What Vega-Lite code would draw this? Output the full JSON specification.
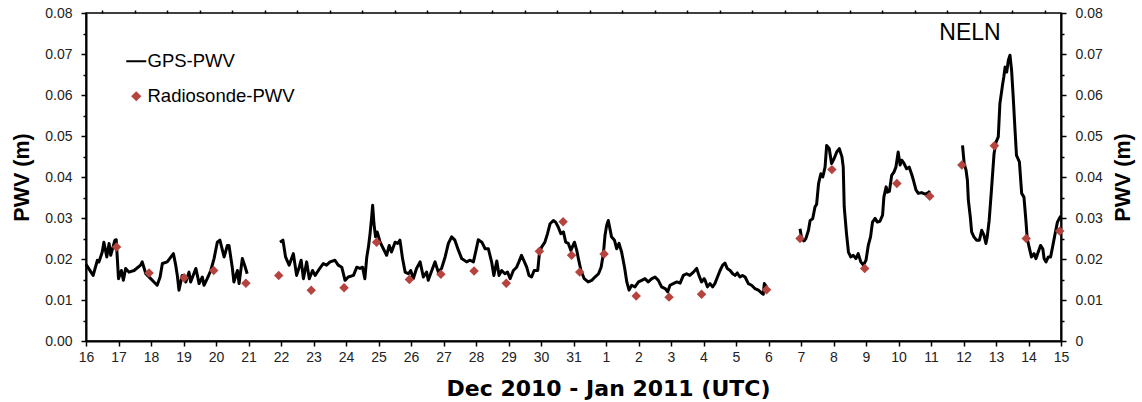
{
  "$schema": "https://vega.github.io/schema/vega-lite/v6.json",
  "width": 975,
  "height": 328,
  "autosize": "none",
  "padding": {"left": 86, "top": 13, "right": 81, "bottom": 61},
  "background": "white",
  "config": {
    "view": {"stroke": "black", "strokeWidth": 1.5},
    "font": "Liberation Sans",
    "axis": {
      "domainColor": "black", "domainWidth": 2, "tickColor": "black", "tickWidth": 1.5,
      "labelFont": "Liberation Sans", "labelFontSize": 14, "labelColor": "#222",
      "titleFont": "Liberation Sans", "titleFontWeight": "bold", "titleColor": "black",
      "grid": false, "labelOverlap": false, "labelFlush": false, "labelBound": false
    }
  },
  "datasets": {
    "gps": [
      {"d":0.00,"v":0.0187,"seg":1},{"d":0.22,"v":0.016,"seg":1},{"d":0.35,"v":0.0197,"seg":1},{"d":0.40,"v":0.0193,"seg":1},{"d":0.50,"v":0.0217,"seg":1},{"d":0.55,"v":0.0241,"seg":1},{"d":0.64,"v":0.0205,"seg":1},{"d":0.71,"v":0.0238,"seg":1},{"d":0.76,"v":0.0209,"seg":1},{"d":0.89,"v":0.0246,"seg":1},{"d":0.93,"v":0.0247,"seg":1},{"d":1.0,"v":0.0152,"seg":1},{"d":1.09,"v":0.0172,"seg":1},{"d":1.15,"v":0.0148,"seg":1},{"d":1.22,"v":0.0177,"seg":1},{"d":1.32,"v":0.0168,"seg":1},{"d":1.48,"v":0.0172,"seg":1},{"d":1.68,"v":0.0185,"seg":1},{"d":1.73,"v":0.0193,"seg":1},{"d":1.84,"v":0.0164,"seg":1},{"d":1.99,"v":0.0152,"seg":1},{"d":2.09,"v":0.0144,"seg":1},{"d":2.19,"v":0.0136,"seg":1},{"d":2.28,"v":0.0156,"seg":1},{"d":2.35,"v":0.0189,"seg":1},{"d":2.50,"v":0.0193,"seg":1},{"d":2.69,"v":0.0213,"seg":1},{"d":2.76,"v":0.0185,"seg":1},{"d":2.81,"v":0.016,"seg":1},{"d":2.86,"v":0.0124,"seg":1},{"d":2.96,"v":0.016,"seg":1},{"d":3.07,"v":0.0144,"seg":1},{"d":3.17,"v":0.0168,"seg":1},{"d":3.22,"v":0.0144,"seg":1},{"d":3.38,"v":0.0177,"seg":1},{"d":3.48,"v":0.014,"seg":1},{"d":3.58,"v":0.0156,"seg":1},{"d":3.63,"v":0.0136,"seg":1},{"d":3.73,"v":0.0152,"seg":1},{"d":3.84,"v":0.0172,"seg":1},{"d":3.94,"v":0.0201,"seg":1},{"d":4.04,"v":0.0241,"seg":1},{"d":4.12,"v":0.0246,"seg":1},{"d":4.25,"v":0.0205,"seg":1},{"d":4.35,"v":0.0233,"seg":1},{"d":4.40,"v":0.0233,"seg":1},{"d":4.50,"v":0.018,"seg":1},{"d":4.55,"v":0.0144,"seg":1},{"d":4.66,"v":0.0172,"seg":1},{"d":4.71,"v":0.014,"seg":1},{"d":4.81,"v":0.0201,"seg":1},{"d":4.88,"v":0.0185,"seg":1},{"d":4.96,"v":0.0164,"seg":1},
      {"d":5.97,"v":0.0241,"seg":2},{"d":6.06,"v":0.0246,"seg":2},{"d":6.14,"v":0.0205,"seg":2},{"d":6.25,"v":0.0185,"seg":2},{"d":6.38,"v":0.0213,"seg":2},{"d":6.48,"v":0.016,"seg":2},{"d":6.56,"v":0.018,"seg":2},{"d":6.62,"v":0.0197,"seg":2},{"d":6.69,"v":0.0152,"seg":2},{"d":6.79,"v":0.0193,"seg":2},{"d":6.87,"v":0.0152,"seg":2},{"d":6.97,"v":0.0172,"seg":2},{"d":7.05,"v":0.016,"seg":2},{"d":7.15,"v":0.0172,"seg":2},{"d":7.30,"v":0.0189,"seg":2},{"d":7.40,"v":0.0185,"seg":2},{"d":7.51,"v":0.0193,"seg":2},{"d":7.66,"v":0.0197,"seg":2},{"d":7.76,"v":0.0185,"seg":2},{"d":7.87,"v":0.018,"seg":2},{"d":7.97,"v":0.0148,"seg":2},{"d":8.07,"v":0.0156,"seg":2},{"d":8.23,"v":0.016,"seg":2},{"d":8.33,"v":0.018,"seg":2},{"d":8.43,"v":0.0177,"seg":2},{"d":8.51,"v":0.018,"seg":2},{"d":8.58,"v":0.0152,"seg":2},{"d":8.64,"v":0.0205,"seg":2},{"d":8.69,"v":0.0229,"seg":2},{"d":8.74,"v":0.0262,"seg":2},{"d":8.79,"v":0.0302,"seg":2},{"d":8.82,"v":0.0331,"seg":2},{"d":8.86,"v":0.0286,"seg":2},{"d":8.91,"v":0.0254,"seg":2},{"d":8.96,"v":0.0266,"seg":2},{"d":9.05,"v":0.0241,"seg":2},{"d":9.15,"v":0.0225,"seg":2},{"d":9.25,"v":0.0209,"seg":2},{"d":9.33,"v":0.0233,"seg":2},{"d":9.40,"v":0.0217,"seg":2},{"d":9.51,"v":0.0241,"seg":2},{"d":9.59,"v":0.0238,"seg":2},{"d":9.66,"v":0.0246,"seg":2},{"d":9.74,"v":0.0201,"seg":2},{"d":9.82,"v":0.0168,"seg":2},{"d":9.92,"v":0.0164,"seg":2},{"d":9.99,"v":0.0172,"seg":2},{"d":10.07,"v":0.0152,"seg":2},{"d":10.17,"v":0.0177,"seg":2},{"d":10.28,"v":0.0193,"seg":2},{"d":10.38,"v":0.0156,"seg":2},{"d":10.48,"v":0.0168,"seg":2},{"d":10.53,"v":0.0148,"seg":2},{"d":10.64,"v":0.0172,"seg":2},{"d":10.74,"v":0.0193,"seg":2},{"d":10.84,"v":0.0168,"seg":2},{"d":10.94,"v":0.0177,"seg":2},{"d":11.05,"v":0.0205,"seg":2},{"d":11.15,"v":0.0238,"seg":2},{"d":11.25,"v":0.0254,"seg":2},{"d":11.35,"v":0.0246,"seg":2},{"d":11.46,"v":0.0221,"seg":2},{"d":11.56,"v":0.0201,"seg":2},{"d":11.71,"v":0.0193,"seg":2},{"d":11.82,"v":0.0197,"seg":2},{"d":11.92,"v":0.0193,"seg":2},{"d":12.00,"v":0.0221,"seg":2},{"d":12.07,"v":0.0247,"seg":2},{"d":12.18,"v":0.0241,"seg":2},{"d":12.28,"v":0.0225,"seg":2},{"d":12.38,"v":0.0225,"seg":2},{"d":12.48,"v":0.0193,"seg":2},{"d":12.55,"v":0.016,"seg":2},{"d":12.64,"v":0.0195,"seg":2},{"d":12.71,"v":0.016,"seg":2},{"d":12.79,"v":0.0172,"seg":2},{"d":12.89,"v":0.0164,"seg":2},{"d":12.97,"v":0.0168,"seg":2},{"d":13.05,"v":0.0152,"seg":2},{"d":13.15,"v":0.0172,"seg":2},{"d":13.25,"v":0.018,"seg":2},{"d":13.32,"v":0.0193,"seg":2},{"d":13.40,"v":0.0209,"seg":2},{"d":13.49,"v":0.0193,"seg":2},{"d":13.56,"v":0.018,"seg":2},{"d":13.63,"v":0.016,"seg":2},{"d":13.71,"v":0.0156,"seg":2},{"d":13.79,"v":0.0172,"seg":2},{"d":13.90,"v":0.0172,"seg":2},{"d":13.95,"v":0.0213,"seg":2},{"d":14.02,"v":0.0229,"seg":2},{"d":14.12,"v":0.0241,"seg":2},{"d":14.20,"v":0.0262,"seg":2},{"d":14.28,"v":0.0286,"seg":2},{"d":14.38,"v":0.0294,"seg":2},{"d":14.45,"v":0.029,"seg":2},{"d":14.53,"v":0.0278,"seg":2},{"d":14.61,"v":0.0262,"seg":2},{"d":14.69,"v":0.0266,"seg":2},{"d":14.76,"v":0.0241,"seg":2},{"d":14.84,"v":0.0238,"seg":2},{"d":14.92,"v":0.0221,"seg":2},{"d":15.03,"v":0.0241,"seg":2},{"d":15.10,"v":0.0221,"seg":2},{"d":15.15,"v":0.0201,"seg":2},{"d":15.23,"v":0.0172,"seg":2},{"d":15.33,"v":0.0152,"seg":2},{"d":15.45,"v":0.0144,"seg":2},{"d":15.56,"v":0.0148,"seg":2},{"d":15.66,"v":0.0156,"seg":2},{"d":15.77,"v":0.0164,"seg":2},{"d":15.85,"v":0.018,"seg":2},{"d":15.92,"v":0.0213,"seg":2},{"d":15.97,"v":0.0258,"seg":2},{"d":16.02,"v":0.0282,"seg":2},{"d":16.07,"v":0.0294,"seg":2},{"d":16.12,"v":0.0274,"seg":2},{"d":16.17,"v":0.0254,"seg":2},{"d":16.26,"v":0.0246,"seg":2},{"d":16.33,"v":0.0225,"seg":2},{"d":16.40,"v":0.0238,"seg":2},{"d":16.48,"v":0.0217,"seg":2},{"d":16.57,"v":0.018,"seg":2},{"d":16.64,"v":0.0144,"seg":2},{"d":16.71,"v":0.0124,"seg":2},{"d":16.79,"v":0.0136,"seg":2},{"d":16.89,"v":0.0132,"seg":2},{"d":17.00,"v":0.0144,"seg":2},{"d":17.10,"v":0.0148,"seg":2},{"d":17.20,"v":0.0152,"seg":2},{"d":17.30,"v":0.0144,"seg":2},{"d":17.41,"v":0.0152,"seg":2},{"d":17.51,"v":0.0156,"seg":2},{"d":17.61,"v":0.0148,"seg":2},{"d":17.71,"v":0.0132,"seg":2},{"d":17.82,"v":0.0128,"seg":2},{"d":17.90,"v":0.012,"seg":2},{"d":17.97,"v":0.0136,"seg":2},{"d":18.07,"v":0.014,"seg":2},{"d":18.18,"v":0.0144,"seg":2},{"d":18.28,"v":0.0141,"seg":2},{"d":18.38,"v":0.016,"seg":2},{"d":18.48,"v":0.0164,"seg":2},{"d":18.58,"v":0.016,"seg":2},{"d":18.69,"v":0.0168,"seg":2},{"d":18.79,"v":0.0177,"seg":2},{"d":18.86,"v":0.016,"seg":2},{"d":18.94,"v":0.0144,"seg":2},{"d":19.02,"v":0.0152,"seg":2},{"d":19.05,"v":0.0148,"seg":2},{"d":19.12,"v":0.0132,"seg":2},{"d":19.20,"v":0.014,"seg":2},{"d":19.28,"v":0.0132,"seg":2},{"d":19.35,"v":0.014,"seg":2},{"d":19.43,"v":0.0156,"seg":2},{"d":19.51,"v":0.0172,"seg":2},{"d":19.59,"v":0.0185,"seg":2},{"d":19.66,"v":0.019,"seg":2},{"d":19.73,"v":0.0177,"seg":2},{"d":19.82,"v":0.0172,"seg":2},{"d":19.90,"v":0.0164,"seg":2},{"d":19.97,"v":0.016,"seg":2},{"d":20.04,"v":0.0166,"seg":2},{"d":20.12,"v":0.0156,"seg":2},{"d":20.20,"v":0.016,"seg":2},{"d":20.28,"v":0.0156,"seg":2},{"d":20.38,"v":0.014,"seg":2},{"d":20.48,"v":0.0136,"seg":2},{"d":20.58,"v":0.0128,"seg":2},{"d":20.69,"v":0.0124,"seg":2},{"d":20.79,"v":0.0117,"seg":2},{"d":20.84,"v":0.0114,"seg":2},{"d":20.87,"v":0.014,"seg":2},{"d":20.94,"v":0.0132,"seg":2},
      {"d":21.97,"v":0.0274,"seg":3},{"d":22.02,"v":0.025,"seg":3},{"d":22.09,"v":0.0244,"seg":3},{"d":22.15,"v":0.025,"seg":3},{"d":22.23,"v":0.027,"seg":3},{"d":22.28,"v":0.0294,"seg":3},{"d":22.36,"v":0.0298,"seg":3},{"d":22.43,"v":0.0327,"seg":3},{"d":22.48,"v":0.0333,"seg":3},{"d":22.54,"v":0.0384,"seg":3},{"d":22.61,"v":0.0408,"seg":3},{"d":22.67,"v":0.04,"seg":3},{"d":22.74,"v":0.0424,"seg":3},{"d":22.79,"v":0.0477,"seg":3},{"d":22.87,"v":0.0469,"seg":3},{"d":22.94,"v":0.0433,"seg":3},{"d":23.02,"v":0.0445,"seg":3},{"d":23.10,"v":0.0461,"seg":3},{"d":23.18,"v":0.0469,"seg":3},{"d":23.26,"v":0.0449,"seg":3},{"d":23.30,"v":0.0424,"seg":3},{"d":23.33,"v":0.0327,"seg":3},{"d":23.40,"v":0.0262,"seg":3},{"d":23.46,"v":0.0217,"seg":3},{"d":23.53,"v":0.0205,"seg":3},{"d":23.61,"v":0.0209,"seg":3},{"d":23.69,"v":0.0201,"seg":3},{"d":23.76,"v":0.0213,"seg":3},{"d":23.84,"v":0.0193,"seg":3},{"d":23.92,"v":0.0185,"seg":3},{"d":24.00,"v":0.0197,"seg":3},{"d":24.07,"v":0.0233,"seg":3},{"d":24.14,"v":0.0254,"seg":3},{"d":24.20,"v":0.029,"seg":3},{"d":24.28,"v":0.0299,"seg":3},{"d":24.35,"v":0.029,"seg":3},{"d":24.43,"v":0.0292,"seg":3},{"d":24.51,"v":0.0307,"seg":3},{"d":24.55,"v":0.0351,"seg":3},{"d":24.62,"v":0.0376,"seg":3},{"d":24.66,"v":0.0363,"seg":3},{"d":24.72,"v":0.0365,"seg":3},{"d":24.79,"v":0.0404,"seg":3},{"d":24.86,"v":0.0412,"seg":3},{"d":24.92,"v":0.0424,"seg":3},{"d":24.99,"v":0.0461,"seg":3},{"d":25.05,"v":0.0429,"seg":3},{"d":25.10,"v":0.0441,"seg":3},{"d":25.17,"v":0.0433,"seg":3},{"d":25.25,"v":0.042,"seg":3},{"d":25.33,"v":0.0424,"seg":3},{"d":25.40,"v":0.0408,"seg":3},{"d":25.46,"v":0.0392,"seg":3},{"d":25.54,"v":0.0368,"seg":3},{"d":25.61,"v":0.036,"seg":3},{"d":25.71,"v":0.0362,"seg":3},{"d":25.82,"v":0.0358,"seg":3},{"d":25.92,"v":0.0362,"seg":3},{"d":25.97,"v":0.0366,"seg":3},
      {"d":26.97,"v":0.0477,"seg":4},{"d":27.02,"v":0.0433,"seg":4},{"d":27.08,"v":0.0416,"seg":4},{"d":27.12,"v":0.0392,"seg":4},{"d":27.15,"v":0.0343,"seg":4},{"d":27.21,"v":0.0302,"seg":4},{"d":27.25,"v":0.0266,"seg":4},{"d":27.32,"v":0.0254,"seg":4},{"d":27.40,"v":0.0246,"seg":4},{"d":27.49,"v":0.0246,"seg":4},{"d":27.56,"v":0.027,"seg":4},{"d":27.63,"v":0.0258,"seg":4},{"d":27.69,"v":0.0238,"seg":4},{"d":27.73,"v":0.0254,"seg":4},{"d":27.79,"v":0.0294,"seg":4},{"d":27.86,"v":0.0368,"seg":4},{"d":27.94,"v":0.0457,"seg":4},{"d":28.00,"v":0.0485,"seg":4},{"d":28.07,"v":0.0498,"seg":4},{"d":28.12,"v":0.0579,"seg":4},{"d":28.20,"v":0.0624,"seg":4},{"d":28.24,"v":0.0644,"seg":4},{"d":28.28,"v":0.0668,"seg":4},{"d":28.33,"v":0.0656,"seg":4},{"d":28.38,"v":0.0685,"seg":4},{"d":28.43,"v":0.0697,"seg":4},{"d":28.48,"v":0.066,"seg":4},{"d":28.53,"v":0.0595,"seg":4},{"d":28.58,"v":0.0522,"seg":4},{"d":28.63,"v":0.0453,"seg":4},{"d":28.72,"v":0.0437,"seg":4},{"d":28.79,"v":0.036,"seg":4},{"d":28.86,"v":0.0351,"seg":4},{"d":28.92,"v":0.0294,"seg":4},{"d":28.96,"v":0.025,"seg":4},{"d":29.02,"v":0.0229,"seg":4},{"d":29.09,"v":0.0205,"seg":4},{"d":29.17,"v":0.0213,"seg":4},{"d":29.23,"v":0.0201,"seg":4},{"d":29.30,"v":0.0217,"seg":4},{"d":29.37,"v":0.0233,"seg":4},{"d":29.44,"v":0.0225,"seg":4},{"d":29.48,"v":0.0201,"seg":4},{"d":29.54,"v":0.0193,"seg":4},{"d":29.61,"v":0.0205,"seg":4},{"d":29.68,"v":0.0205,"seg":4},{"d":29.74,"v":0.0229,"seg":4},{"d":29.82,"v":0.0262,"seg":4},{"d":29.89,"v":0.029,"seg":4},{"d":29.95,"v":0.0299,"seg":4},{"d":30.0,"v":0.0305,"seg":4}
    ],
    "rs": [
      {"d":0.94,"v":0.0229},{"d":1.94,"v":0.0166},{"d":3.02,"v":0.0154},{"d":3.93,"v":0.0172},{"d":4.92,"v":0.0141},{"d":5.93,"v":0.016},{"d":6.93,"v":0.0124},{"d":7.94,"v":0.013},{"d":8.94,"v":0.0241},{"d":9.95,"v":0.015},{"d":10.92,"v":0.0163},{"d":11.94,"v":0.0171},{"d":12.93,"v":0.0141},{"d":13.95,"v":0.0219},{"d":14.68,"v":0.0291},{"d":14.94,"v":0.0209},{"d":15.19,"v":0.0168},{"d":15.94,"v":0.0212},{"d":16.93,"v":0.011},{"d":17.94,"v":0.0107},{"d":18.94,"v":0.0114},{"d":20.94,"v":0.0125},{"d":21.97,"v":0.025},{"d":22.95,"v":0.0418},{"d":23.96,"v":0.0177},{"d":24.95,"v":0.0384},{"d":25.96,"v":0.0353},{"d":26.95,"v":0.0429},{"d":27.95,"v":0.0476},{"d":28.93,"v":0.025},{"d":29.96,"v":0.0268}
    ]
  },
  "layer": [
    {
      "data": {"name": "gps"},
      "mark": {"type": "line", "strokeWidth": 3, "strokeJoin": "round"},
      "encoding": {
        "x": {
          "field": "d", "type": "quantitative",
          "scale": {"domain": [0, 30], "nice": false, "zero": false},
          "axis": {
            "values": [0,1,2,3,4,5,6,7,8,9,10,11,12,13,14,15,16,17,18,19,20,21,22,23,24,25,26,27,28,29,30],
            "labelExpr": "datum.value <= 15 ? '' + (datum.value + 16) : '' + (datum.value - 15)",
            "labelOverlap": false,
            "tickSize": 5,
            "labelPadding": 4,
            "title": "Dec 2010 - Jan 2011 (UTC)",
            "titleFont": "DejaVu Sans",
            "titleFontSize": 22,
            "titlePadding": 14,
            "titleX": 522
          }
        },
        "y": {
          "field": "v", "type": "quantitative",
          "scale": {"domain": [0, 0.08], "nice": false, "zero": true},
          "axis": {
            "orient": "left",
            "values": [0,0.005,0.01,0.015,0.02,0.025,0.03,0.035,0.04,0.045,0.05,0.055,0.06,0.065,0.07,0.075,0.08],
            "labelExpr": "round(datum.value*200) % 2 === 0 ? format(datum.value, '.2f') : ''",
            "labelOverlap": false,
            "tickSize": {"condition": {"test": "round(datum.value*200) % 2 === 0", "value": 5}, "value": 3},
            "labelPadding": 9,
            "title": "PWV (m)",
            "titleFontSize": 21.5,
            "titlePadding": 11
          }
        },
        "detail": {"field": "seg"},
        "color": {
          "datum": "GPS-PWV",
          "type": "nominal",
          "scale": {"domain": ["GPS-PWV", "Radiosonde-PWV"], "range": ["black", "#b5443f"]},
          "legend": {
            "title": null,
            "orient": "none",
            "legendX": 41,
            "legendY": 39,
            "padding": 0,
            "symbolSize": 400,
            "symbolType": "stroke",
            "labelFont": "Liberation Sans",
            "labelFontSize": 18.5,
            "labelColor": "black",
            "labelOffset": 2,
            "rowPadding": 16,
            "encode": {
              "symbols": {
                "update": {
                  "shape": {"signal": "datum.value === 'GPS-PWV' ? 'stroke' : 'diamond'"},
                  "size": {"signal": "datum.value === 'GPS-PWV' ? 400 : 55"},
                  "fill": {"signal": "datum.value === 'GPS-PWV' ? 'transparent' : '#b5443f'"},
                  "stroke": {"signal": "datum.value === 'GPS-PWV' ? 'black' : 'transparent'"},
                  "strokeWidth": {"value": 2},
                  "opacity": {"value": 1}
                }
              }
            }
          }
        }
      }
    },
    {
      "data": {"name": "rs"},
      "mark": {"type": "point", "shape": "diamond", "filled": true, "size": 90, "opacity": 1},
      "encoding": {
        "x": {
          "field": "d", "type": "quantitative",
          "scale": {"domain": [0, 30], "nice": false, "zero": false},
          "axis": {
            "values": [0.5,1.5,2.5,3.5,4.5,5.5,6.5,7.5,8.5,9.5,10.5,11.5,12.5,13.5,14.5,15.5,16.5,17.5,18.5,19.5,20.5,21.5,22.5,23.5,24.5,25.5,26.5,27.5,28.5,29.5],
            "labels": false,
            "domain": false,
            "tickSize": 3,
            "title": null
          }
        },
        "y": {
          "field": "v", "type": "quantitative",
          "scale": {"domain": [0, 0.08], "nice": false, "zero": true},
          "axis": {
            "orient": "right",
            "values": [0,0.005,0.01,0.015,0.02,0.025,0.03,0.035,0.04,0.045,0.05,0.055,0.06,0.065,0.07,0.075,0.08],
            "labelExpr": "round(datum.value*200) % 2 !== 0 ? '' : (datum.value === 0 ? '0' : format(datum.value, '.2f'))",
            "labelOverlap": false,
            "tickSize": {"condition": {"test": "round(datum.value*200) % 2 === 0", "value": 5}, "value": 3},
            "labelPadding": 9,
            "title": "PWV (m)",
            "titleFontSize": 21.5,
            "titleAngle": 270,
            "titleBaseline": "top",
            "titlePadding": 10
          }
        },
        "color": {"datum": "Radiosonde-PWV", "type": "nominal"}
      }
    },
    {
      "data": {"values": [{"d": 27.2, "v": 0.0752, "label": "NELN"}]},
      "mark": {"type": "text", "font": "Liberation Sans", "fontSize": 23, "color": "black"},
      "encoding": {
        "x": {"field": "d", "type": "quantitative", "scale": {"domain": [0, 30], "nice": false, "zero": false}, "axis": null},
        "y": {"field": "v", "type": "quantitative", "scale": {"domain": [0, 0.08], "nice": false}, "axis": null},
        "text": {"field": "label"}
      }
    }
  ],
  "resolve": {"scale": {"x": "independent", "y": "independent"}}
}
